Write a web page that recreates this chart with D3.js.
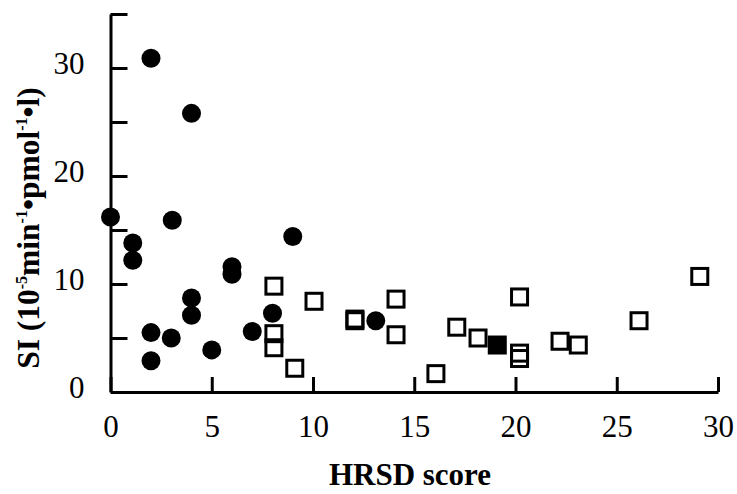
<!DOCTYPE html>
<html>
<head>
<meta charset="utf-8">
<script src="https://cdn.jsdelivr.net/npm/d3@7"></script>
<style>
  html, body { margin: 0; padding: 0; background: #fff; }
  svg { display: block; }
  text { font-family: 'Liberation Serif', 'Times New Roman', serif; fill: #000; }
</style>
</head>
<body>
<svg id="chart" width="737" height="494"></svg>
<script>
// Group 1 (filled circles)
const circleX = [0, 1.1, 1.1, 2, 2, 2, 3.05, 3, 4, 4, 4, 5, 6, 6, 7, 8, 9, 13.1];
const circleY = [16.2, 13.8, 12.2, 30.9, 5.5, 2.9, 15.9, 5.0, 25.8, 8.7, 7.1, 3.9, 11.6, 10.9, 5.6, 7.3, 14.4, 6.6];
// Group 2 (open squares)
const squareX = [8.07, 8.07, 8.07, 9.1, 10.05, 12.07, 12.07, 14.1, 14.1, 16.07, 17.1, 18.15, 20.2, 20.2, 20.2, 22.2, 23.1, 26.1, 29.1];
const squareY = [9.8, 5.4, 4.1, 2.2, 8.4, 6.75, 6.6, 8.6, 5.3, 1.7, 6.0, 5.0, 8.8, 3.6, 3.1, 4.7, 4.35, 6.6, 10.7];
// Filled square
const filledSquareX = [19.1];
const filledSquareY = [4.35];

const xTicks = [0, 5, 10, 15, 20, 25, 30];
const yTicks = [0, 5, 10, 15, 20, 25, 30, 35];
const yLabelled = [0, 10, 20, 30];

const svg = d3.select("#chart");
const x = d3.scaleLinear().domain([0, 30]).range([110.5, 718]);
const y = d3.scaleLinear().domain([0, 35]).range([392, 14]);

// X axis
const xAxis = d3.axisBottom(x).tickValues(xTicks).tickSizeInner(-15).tickSizeOuter(0).tickPadding(23)
  .tickFormat(d3.format("d"));
const gx = svg.append("g").attr("transform", "translate(0,392)").call(xAxis);
gx.selectAll("path, line").attr("stroke", "#000").attr("stroke-width", 3);
gx.selectAll("text").attr("font-size", 31).attr("font-family", "'Liberation Serif', 'Times New Roman', serif").attr("fill", "#000");

// Y axis
const yAxis = d3.axisLeft(y).tickValues(yTicks).tickSizeInner(-17).tickSizeOuter(0).tickPadding(26)
  .tickFormat(d => yLabelled.includes(d) ? d : "");
const gy = svg.append("g").attr("transform", "translate(110.5,0)").call(yAxis);
gy.selectAll("path, line").attr("stroke", "#000").attr("stroke-width", 3);
gy.selectAll("text").attr("font-size", 31).attr("dy", "0.17em").attr("font-family", "'Liberation Serif', 'Times New Roman', serif").attr("fill", "#000");

// Axis titles
svg.append("text")
  .attr("x", 410).attr("y", 485)
  .attr("text-anchor", "middle")
  .attr("font-size", 31).attr("font-weight", "bold")
  .text("HRSD score");

const yt = svg.append("text")
  .attr("transform", "translate(39,228) rotate(-90)")
  .attr("text-anchor", "middle")
  .attr("font-size", 31.5).attr("font-weight", "bold");
yt.append("tspan").text("SI (10");
yt.append("tspan").attr("font-size", 16).attr("dy", -12).text("-5");
yt.append("tspan").attr("dy", 12).text("min");
yt.append("tspan").attr("font-size", 16).attr("dy", -12).text("-1");
yt.append("tspan").attr("dy", 12).text("•pmol");
yt.append("tspan").attr("font-size", 16).attr("dy", -12).text("-1");
yt.append("tspan").attr("dy", 12).text("•l)");

// Marks
const sq = 16;
svg.append("g").selectAll("rect.open")
  .data(squareX.map((v, i) => [v, squareY[i]]))
  .join("rect")
  .attr("x", d => x(d[0]) - sq / 2).attr("y", d => y(d[1]) - sq / 2)
  .attr("width", sq).attr("height", sq)
  .attr("fill", "none").attr("stroke", "#000").attr("stroke-width", 3);

svg.append("g").selectAll("rect.filled")
  .data(filledSquareX.map((v, i) => [v, filledSquareY[i]]))
  .join("rect")
  .attr("x", d => x(d[0]) - sq / 2).attr("y", d => y(d[1]) - sq / 2)
  .attr("width", sq).attr("height", sq)
  .attr("fill", "#000").attr("stroke", "#000").attr("stroke-width", 3);

svg.append("g").selectAll("circle")
  .data(circleX.map((v, i) => [v, circleY[i]]))
  .join("circle")
  .attr("cx", d => x(d[0])).attr("cy", d => y(d[1]))
  .attr("r", 9.5).attr("fill", "#000");
</script>
</body>
</html>
